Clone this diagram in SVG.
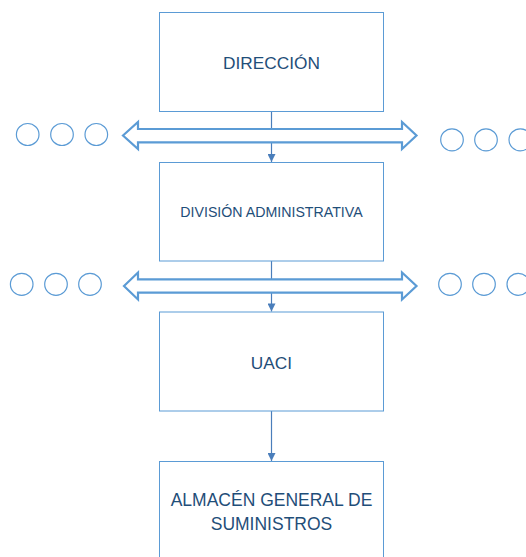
<svg xmlns="http://www.w3.org/2000/svg" width="526" height="557" viewBox="0 0 526 557">
<defs>
<style>
.box{fill:#ffffff;stroke:#5b9bd5;stroke-width:1}
.lbl{font-family:"Liberation Sans",Arial,sans-serif;fill:#1f4e79;text-anchor:middle}
.circ{fill:none;stroke:#5b9bd5;stroke-width:1.2}
.conn{stroke:#4a7ebb;stroke-width:1.2;fill:none}
.dbl{fill:#ffffff;stroke:#5b9bd5;stroke-width:2.2;stroke-linejoin:miter}
</style>
<marker id="ah" viewBox="0 0 10 10" refX="10" refY="5" markerWidth="9" markerHeight="8" markerUnits="userSpaceOnUse" orient="auto">
<path d="M0,0 L10,5 L0,10 Z" fill="#4a7ebb"/>
</marker>
</defs>
<rect width="526" height="557" fill="#ffffff"/>
<g id="connectors">
<line class="conn" x1="271.5" y1="111.5" x2="271.5" y2="162" marker-end="url(#ah)"/>
<line class="conn" x1="271.5" y1="261" x2="271.5" y2="311.5" marker-end="url(#ah)"/>
<line class="conn" x1="271.5" y1="411" x2="271.5" y2="461" marker-end="url(#ah)"/>
</g>
<g id="bus1">
<path class="dbl" d="M123,135.5 L138,122 L138,129 L402,129 L402,122 L416.5,135.5 L402,149 L402,142.3 L138,142.3 L138,149 Z"/>
</g>
<g id="bus2">
<path class="dbl" d="M124,286 L138,272.5 L138,279.3 L402,279.3 L402,272.5 L416.5,286 L402,299.5 L402,292.7 L138,292.7 L138,299.5 Z"/>
</g>
<g id="dots">
<ellipse class="circ" cx="27.7" cy="134.5" rx="11.3" ry="11"/>
<ellipse class="circ" cx="62" cy="134.5" rx="11.3" ry="11"/>
<ellipse class="circ" cx="96.3" cy="134.5" rx="11.3" ry="11"/>
<ellipse class="circ" cx="452" cy="139.8" rx="11.3" ry="11"/>
<ellipse class="circ" cx="486" cy="139.8" rx="11.3" ry="11"/>
<ellipse class="circ" cx="520.3" cy="139.8" rx="11.3" ry="11"/>
<ellipse class="circ" cx="21.7" cy="284.3" rx="11.3" ry="11"/>
<ellipse class="circ" cx="56" cy="284.3" rx="11.3" ry="11"/>
<ellipse class="circ" cx="90" cy="284.3" rx="11.3" ry="11"/>
<ellipse class="circ" cx="450" cy="284.3" rx="11.3" ry="11"/>
<ellipse class="circ" cx="484" cy="284.3" rx="11.3" ry="11"/>
<ellipse class="circ" cx="518.3" cy="284.3" rx="11.3" ry="11"/>
</g>
<g id="direccion">
<rect class="box" x="159.5" y="12.5" width="224" height="99"/>
<text class="lbl" x="271.5" y="69.3" font-size="17.3">DIRECCIÓN</text>
</g>
<g id="division">
<rect class="box" x="159.5" y="162.5" width="224" height="98.5"/>
<text class="lbl" x="271.5" y="216.7" font-size="14.2">DIVISIÓN ADMINISTRATIVA</text>
</g>
<g id="uaci">
<rect class="box" x="159.5" y="312" width="224" height="99"/>
<text class="lbl" x="271.5" y="369.3" font-size="17.3">UACI</text>
</g>
<g id="almacen">
<rect class="box" x="159.5" y="461.5" width="224" height="110"/>
<text class="lbl" x="271.5" y="506" font-size="17.5">ALMACÉN GENERAL DE</text>
<text class="lbl" x="271.5" y="530" font-size="17.5">SUMINISTROS</text>
</g>
</svg>
